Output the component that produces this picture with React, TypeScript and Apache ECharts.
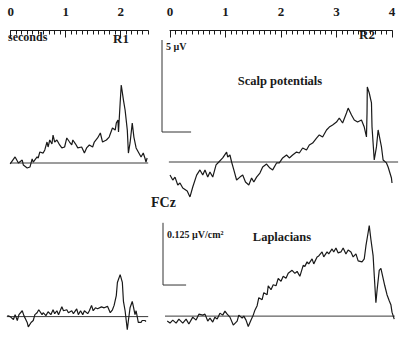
import React, { useEffect, useRef } from "react";
import * as echarts from "echarts";

const SERIF = "'Liberation Serif', 'DejaVu Serif', 'Times New Roman', serif";
const INK = "#1a1a1a";

// Time ruler extents (seconds)
const rulerR1 = { max: 2.5, majorMax: 2 };
const rulerR2 = { max: 4, majorMax: 4 };

// FCz scalp potential, R1-locked [s, µV]
const scalpR1: number[][] = [
  [-0.01, -0.05], [0.08, 0.33], [0.14, 0], [0.21, 0.16], [0.23, -0.11], [0.3, -0.27], [0.35, -0.22],
  [0.39, 0.22], [0.41, 0.05], [0.48, 0.33], [0.5, 0.27], [0.53, 0.6], [0.59, 0.54], [0.62, 0.71],
  [0.66, 1.14], [0.68, 0.87], [0.71, 1.25], [0.75, 1.03], [0.77, 1.52], [0.8, 1.14], [0.84, 1.25],
  [0.89, 0.98], [0.93, 0.82], [0.98, 0.87], [1.02, 1.36], [1.07, 1.14], [1.11, 0.98], [1.13, 1.25],
  [1.18, 1.03], [1.22, 0.82], [1.29, 0.87], [1.34, 0.54], [1.38, 0.82], [1.43, 0.98], [1.49, 0.87],
  [1.52, 1.14], [1.58, 1.36], [1.63, 1.63], [1.67, 1.14], [1.74, 1.25], [1.79, 1.41], [1.85, 1.9],
  [1.9, 1.79], [1.92, 2.17], [1.95, 2.34], [1.96, 1.68], [1.99, 3.26], [2.01, 4.24], [2.05, 3.42],
  [2.08, 2.88], [2.12, 1.79], [2.14, 0.54], [2.17, 1.09], [2.21, 2.17], [2.24, 1.41], [2.28, 0.82],
  [2.32, 0.6], [2.37, 0.33], [2.41, 0.54], [2.44, 0.27], [2.46, 0.05], [2.48, 0.27],
];

// FCz scalp potential, R2-locked [s, µV]
const scalpR2: number[][] = [
  [0.0, -0.71], [0.05, -0.98], [0.09, -0.82], [0.14, -1.25], [0.18, -1.14], [0.23, -1.41], [0.31, -1.58],
  [0.36, -1.9], [0.41, -1.36], [0.48, -0.71], [0.54, -0.43], [0.59, -0.71], [0.63, -0.43], [0.68, -0.82],
  [0.72, -0.54], [0.77, -0.82], [0.83, -0.16], [0.88, 0], [0.95, 0.22], [1.02, 0.54], [1.04, 0.27],
  [1.08, 0.38], [1.11, 0], [1.15, -0.43], [1.2, -0.98], [1.26, -0.82], [1.31, -0.71], [1.36, -1.09],
  [1.42, -1.25], [1.47, -0.87], [1.51, -1.09], [1.56, -0.82], [1.62, -0.6], [1.67, -0.27], [1.74, -0.11],
  [1.8, -0.33], [1.85, -0.43], [1.92, -0.05], [1.97, -0.05], [2.03, 0.22], [2.1, 0.38], [2.15, 0.22],
  [2.21, 0.38], [2.28, 0.54], [2.33, 0.49], [2.39, 0.76], [2.46, 0.65], [2.51, 0.92], [2.57, 1.03],
  [2.64, 1.3], [2.69, 1.47], [2.75, 1.36], [2.82, 1.74], [2.87, 1.9], [2.93, 2.01], [3.0, 2.17],
  [3.05, 2.39], [3.11, 2.12], [3.18, 2.66], [3.21, 2.93], [3.27, 2.55], [3.32, 2.28], [3.38, 2.17],
  [3.45, 2.28], [3.5, 1.9], [3.54, 1.36], [3.55, 2.66], [3.555, 4.08], [3.59, 3.75], [3.63, 3.21],
  [3.64, 1.9], [3.68, 0.11], [3.72, 0.82], [3.75, 1.74], [3.81, 0.82], [3.84, 0.11], [3.9, -0.05],
  [3.93, -0.27], [3.99, -0.87], [4.0, -1.14],
];

// FCz Laplacian, R1-locked [s, µV/cm²]
const lapR1: number[][] = [
  [-0.06, 0.002], [-0.01, 0], [0.05, -0.006], [0.08, 0.004], [0.12, -0.008], [0.15, 0.004], [0.21, 0.012],
  [0.24, 0.002], [0.3, -0.012], [0.32, -0.021], [0.37, -0.012], [0.41, -0.008], [0.44, 0.004], [0.48, 0.008],
  [0.51, 0.014], [0.57, 0.004], [0.59, 0.008], [0.64, 0.002], [0.68, 0.01], [0.73, 0.004], [0.77, 0.014],
  [0.8, 0.006], [0.84, 0.012], [0.87, 0.004], [0.93, 0.02], [0.96, 0.012], [1.02, 0.014], [1.05, 0.008],
  [1.11, 0.012], [1.14, 0.006], [1.2, 0.016], [1.23, 0.004], [1.27, 0.012], [1.31, 0.004], [1.34, 0.012],
  [1.4, 0.006], [1.43, 0.012], [1.47, 0.023], [1.5, 0.012], [1.54, 0.018], [1.58, 0.016], [1.65, 0.02],
  [1.7, 0.018], [1.76, 0.021], [1.81, 0.008], [1.85, 0.014], [1.88, 0.023], [1.92, 0.043], [1.94, 0.07],
  [1.99, 0.086], [2.03, 0.07], [2.05, 0.031], [2.08, 0.012], [2.12, -0.027], [2.14, -0.008], [2.17, 0.018],
  [2.21, 0.031], [2.23, 0.021], [2.26, 0.004], [2.28, 0.012], [2.32, -0.012], [2.37, -0.012], [2.39, -0.008],
  [2.44, -0.008], [2.46, -0.01],
];

// FCz Laplacian, R2-locked [s, µV/cm²]
const lapR2: number[][] = [
  [-0.05, -0.01], [0.0, -0.014], [0.05, -0.008], [0.11, -0.014], [0.16, -0.006], [0.23, -0.014], [0.29, -0.006],
  [0.34, -0.016], [0.41, -0.002], [0.47, -0.008], [0.52, 0.004], [0.59, 0.002], [0.63, 0.004], [0.68, -0.01],
  [0.72, -0.004], [0.77, -0.012], [0.81, -0.002], [0.85, -0.006], [0.9, 0.006], [0.95, 0.002], [0.99, 0.01],
  [1.03, 0.004], [1.08, -0.002], [1.14, -0.018], [1.21, -0.01], [1.24, 0.002], [1.3, -0.004], [1.33, 0],
  [1.37, -0.008], [1.41, -0.021], [1.46, -0.008], [1.5, 0.002], [1.53, 0.012], [1.57, 0.021], [1.6, 0.037],
  [1.66, 0.033], [1.69, 0.047], [1.75, 0.043], [1.77, 0.061], [1.82, 0.053], [1.86, 0.063], [1.91, 0.061],
  [1.95, 0.076], [2.0, 0.07], [2.04, 0.08], [2.09, 0.076], [2.13, 0.086], [2.2, 0.092], [2.25, 0.086],
  [2.29, 0.09], [2.34, 0.08], [2.4, 0.102], [2.43, 0.1], [2.47, 0.109], [2.5, 0.105], [2.56, 0.115],
  [2.59, 0.105], [2.65, 0.119], [2.68, 0.121], [2.74, 0.129], [2.77, 0.119], [2.83, 0.129], [2.86, 0.125],
  [2.92, 0.135], [2.95, 0.129], [2.99, 0.137], [3.03, 0.127], [3.08, 0.129], [3.12, 0.137], [3.17, 0.125],
  [3.21, 0.133], [3.26, 0.129], [3.3, 0.119], [3.35, 0.125], [3.39, 0.111], [3.46, 0.109], [3.5, 0.115],
  [3.53, 0.141], [3.57, 0.168], [3.59, 0.182], [3.62, 0.154], [3.66, 0.121], [3.68, 0.082], [3.71, 0.027],
  [3.73, 0.051], [3.77, 0.092], [3.8, 0.096], [3.84, 0.076], [3.87, 0.061], [3.91, 0.043], [3.95, 0.031],
  [3.98, 0.023], [4.0, 0.008], [4.04, -0.006],
];

// Zero baselines [start s, end s]
const baseScalpR1 = [-0.01, 2.5];
const baseScalpR2 = [-0.02, 4.11];
const baseLapR1 = [-0.07, 2.5];
const baseLapR2 = [-0.09, 4.05];

// Calibration bars: 5 µV and 0.125 µV/cm²
const barScalp: number[][] = [[-0.144, 6.63], [-0.144, 1.63], [0.38, 1.63]];
const barLap: number[][] = [[-0.126, 0.1875], [-0.126, 0.0625], [0.29, 0.0625]];

const LEFT_X0 = 10.7, LEFT_PPS = 55;
const RIGHT_X0 = 170, RIGHT_PPS = 55.5;

export default function App() {
  const ref = useRef<HTMLDivElement>(null);
  useEffect(() => {
    if (!ref.current) return;
    const chart = echarts.init(ref.current, undefined, { renderer: "svg" });

    const lx = (a: number, b: number) => ({ left: LEFT_X0 + a * LEFT_PPS, width: (b - a) * LEFT_PPS });
    const rx = (a: number, b: number) => ({ left: RIGHT_X0 + a * RIGHT_PPS, width: (b - a) * RIGHT_PPS });

    const topScalp = { yMin: -2, yMax: 5, base: 163, ppu: 18.4 };
    const topScalpR = { yMin: -3, yMax: 7, base: 162, ppu: 18.4 };
    const botLapL = { yMin: -0.05, yMax: 0.1, base: 319, ppu: 512 };
    const botLapR = { yMin: -0.05, yMax: 0.2, base: 319, ppu: 512 };
    const gy = (s: any) => ({ top: s.base - s.yMax * s.ppu, height: (s.yMax - s.yMin) * s.ppu });

    const grids = [
      { ...lx(0, rulerR1.max), top: 20.5, height: 10 },
      { ...lx(0, rulerR1.majorMax), top: 20.5, height: 10 },
      { ...rx(0, rulerR2.max), top: 20.5, height: 10 },
      { ...rx(0, rulerR2.majorMax), top: 20.5, height: 10 },
      { ...lx(-0.1, 2.6), ...gy(topScalp) },
      { ...rx(-0.2, 4.1), ...gy(topScalpR) },
      { ...lx(-0.1, 2.6), ...gy(botLapL) },
      { ...rx(-0.2, 4.1), ...gy(botLapR) },
    ];

    const tickStyle = { color: INK, width: 1 };
    const rulerAxis = (gridIndex: number, max: number, interval: number, major: boolean) => ({
      type: "value", gridIndex, position: "top", min: 0, max, interval,
      axisLine: { show: !major, lineStyle: tickStyle },
      axisTick: { show: true, inside: true, length: major ? 7 : 4, lineStyle: tickStyle },
      axisLabel: major
        ? { show: true, margin: 3, color: INK, fontFamily: SERIF, fontWeight: "bold", fontSize: 13 }
        : { show: false },
      splitLine: { show: false },
    });
    const hiddenX = (gridIndex: number, min: number, max: number) => ({
      type: "value", gridIndex, min, max, show: false, splitLine: { show: false },
    });
    const hiddenY = (gridIndex: number, min: number, max: number) => ({
      type: "value", gridIndex, min, max, show: false, splitLine: { show: false },
    });

    const line = (data: number[][], idx: number, width = 1.2, color = INK) => ({
      type: "line", data, xAxisIndex: idx, yAxisIndex: idx, showSymbol: false, symbol: "none",
      clip: false, silent: true, lineStyle: { color, width },
    });
    const base = (r: number[], idx: number) => line([[r[0], 0], [r[1], 0]], idx, 1, "#3a3a3a");

    const txt = (text: string, x: number, y: number, font: string, align = "left") => ({
      type: "text", x, y, silent: true,
      style: { text, font, fill: INK, align, verticalAlign: "middle" },
    });

    chart.setOption({
      animation: false,
      backgroundColor: "#ffffff",
      grid: grids,
      xAxis: [
        rulerAxis(0, rulerR1.max, 0.1, false),
        rulerAxis(1, rulerR1.majorMax, 1, true),
        rulerAxis(2, rulerR2.max, 0.1, false),
        rulerAxis(3, rulerR2.majorMax, 1, true),
        hiddenX(4, -0.1, 2.6),
        hiddenX(5, -0.2, 4.1),
        hiddenX(6, -0.1, 2.6),
        hiddenX(7, -0.2, 4.1),
      ],
      yAxis: [
        hiddenY(0, 0, 1), hiddenY(1, 0, 1), hiddenY(2, 0, 1), hiddenY(3, 0, 1),
        hiddenY(4, topScalp.yMin, topScalp.yMax),
        hiddenY(5, topScalpR.yMin, topScalpR.yMax),
        hiddenY(6, botLapL.yMin, botLapL.yMax),
        hiddenY(7, botLapR.yMin, botLapR.yMax),
      ],
      series: [
        base(baseScalpR1, 4), base(baseScalpR2, 5), base(baseLapR1, 6), base(baseLapR2, 7),
        line(scalpR1, 4), line(scalpR2, 5), line(lapR1, 6), line(lapR2, 7),
        line(barScalp, 5, 1, "#333"), line(barLap, 7, 1, "#333"),
      ],
      graphic: [
        txt("seconds", 8, 37, `bold 12px ${SERIF}`),
        txt("R1", 121, 38, `bold 13px ${SERIF}`, "center"),
        txt("R2", 367, 34, `bold 13px ${SERIF}`, "center"),
        txt("5 µV", 166, 46, `bold 10px ${SERIF}`),
        txt("Scalp potentials", 280, 81, `bold 12.5px ${SERIF}`, "center"),
        txt("FCz", 163.5, 202, `bold 14px ${SERIF}`, "center"),
        txt("0.125 µV/cm²", 167, 234, `bold 10px ${SERIF}`),
        txt("Laplacians", 282, 237, `bold 12.5px ${SERIF}`, "center"),
      ],
    });
    return () => chart.dispose();
  }, []);
  return (
    <div
      ref={ref}
      style={{ position: "absolute", left: 0, top: 0, width: 400, height: 341, background: "#fff" }}
    />
  );
}
